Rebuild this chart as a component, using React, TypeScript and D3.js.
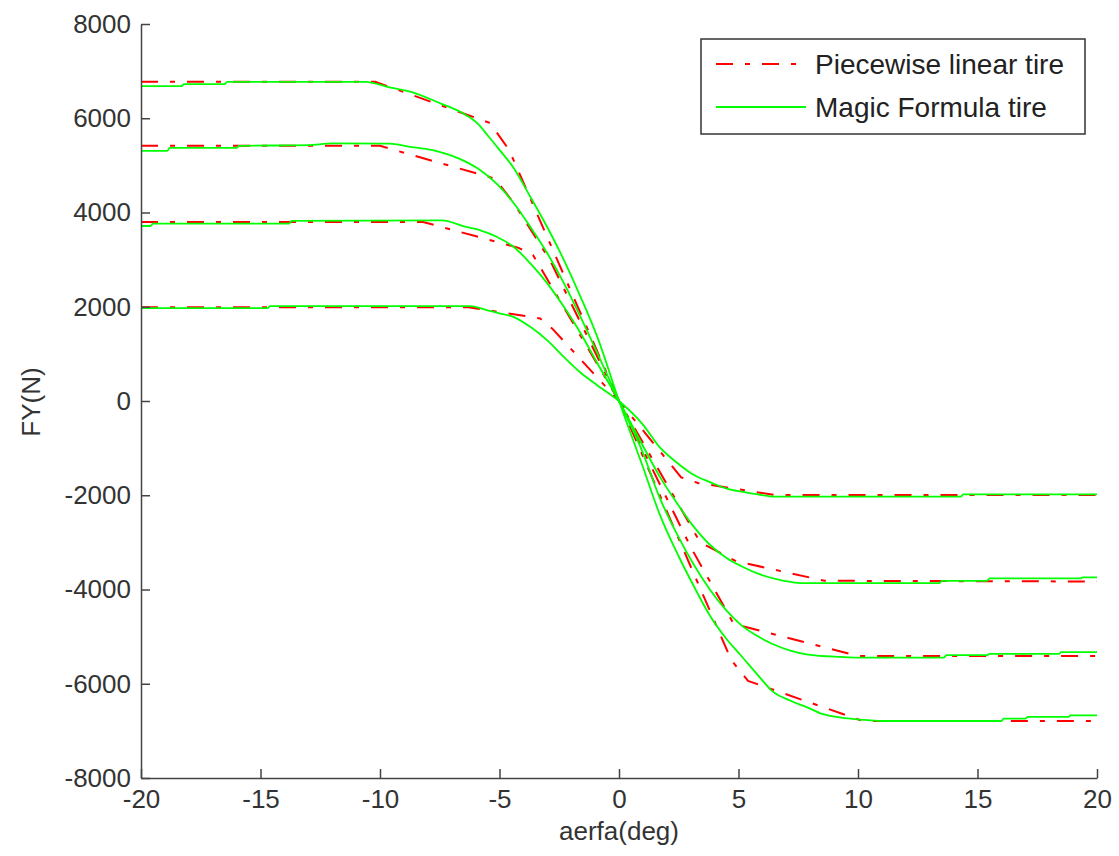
import React, { useEffect, useRef } from "react";
import * as d3 from "d3";

type Pt = [number, number];

const xTicks = [-20, -15, -10, -5, 0, 5, 10, 15, 20];
const yTicks = [-8000, -6000, -4000, -2000, 0, 2000, 4000, 6000, 8000];

const xLabel = "aerfa(deg)";
const yLabel = "FY(N)";
const legendLabels = ["Piecewise linear tire", "Magic Formula tire"];

// Magic Formula tire (green)
const mf2000: Pt[] = [
  [-20, 1972], [-14.7, 1972], [-14.6, 2014], [-6.2, 2014], [-5.5, 1923], [-5.0, 1860],
  [-4.4, 1781], [-3.7, 1568], [-3.0, 1286], [-2.3, 931], [-1.6, 600], [-0.9, 330], [0, 0],
  [1, -500], [1.7, -980], [2.4, -1300], [3.1, -1560], [3.8, -1720], [4.5, -1860],
  [5.2, -1930], [5.9, -1990], [6.5, -2029], [14.3, -2029], [14.4, -1980], [20, -1980],
];
const mf3800: Pt[] = [
  [-20, 3714], [-19.6, 3714], [-19.5, 3765], [-13.8, 3765], [-13.7, 3821], [-7.4, 3835],
  [-6.4, 3693], [-5.8, 3623], [-5.1, 3481], [-4.4, 3268], [-3.7, 2915], [-3.0, 2497],
  [-2.3, 1993], [-1.6, 1434], [-0.9, 797], [0, 0], [1, -950], [1.7, -1600], [2.4, -2150],
  [3.1, -2650], [3.8, -3050], [4.5, -3330], [5.1, -3500], [5.9, -3680], [6.9, -3815],
  [7.6, -3864], [13.4, -3864], [13.5, -3815], [15.4, -3815], [15.5, -3765], [19.3, -3765],
  [19.4, -3744], [20, -3744],
];
const mf5400: Pt[] = [
  [-20, 5308], [-18.9, 5308], [-18.8, 5372], [-16, 5372], [-15.9, 5414], [-13, 5430],
  [-12, 5465], [-9.6, 5460], [-8.8, 5400], [-7.8, 5322], [-6.4, 5074], [-5.8, 4898],
  [-5.1, 4600], [-4.4, 4197], [-3.7, 3687], [-3.0, 3134], [-2.3, 2497], [-1.6, 1774],
  [-0.9, 1009], [0, 0], [1, -1100], [1.7, -2050], [2.4, -2800], [3.1, -3450], [3.8, -4000],
  [4.5, -4450], [5.1, -4750], [5.9, -5020], [6.4, -5150], [7.2, -5300], [7.9, -5380],
  [9.3, -5430], [10, -5444], [13.6, -5444], [13.7, -5394], [15.4, -5394], [15.5, -5366],
  [18.4, -5366], [18.5, -5331], [20, -5331],
];
const mf6750: Pt[] = [
  [-20, 6683], [-18.3, 6683], [-18.2, 6725], [-16.5, 6725], [-16.4, 6774], [-10.6, 6774],
  [-9.7, 6668], [-8.7, 6562], [-7.5, 6322], [-6.4, 6066], [-5.9, 5880], [-5.5, 5640],
  [-5.0, 5330], [-4.4, 4940], [-3.7, 4324], [-3.0, 3687], [-2.3, 2986], [-1.6, 2200],
  [-0.9, 1350], [0, 0], [1, -1400], [1.7, -2400], [2.5, -3300], [3.1, -3900], [3.8, -4550],
  [4.5, -5050], [5.1, -5400], [5.9, -5870], [6.4, -6152], [7.2, -6365], [7.9, -6507],
  [8.5, -6641], [9.3, -6719], [10.1, -6760], [11, -6790], [16, -6790], [16.1, -6740],
  [17, -6740], [17.1, -6705], [18.8, -6705], [18.9, -6670], [20, -6670],
];

// Piecewise linear tire (red dash-dot)
const pl2000: Pt[] = [
  [-20, 1990], [-6.3, 1990], [-3.3, 1753], [-2.8, 1540], [0, 0], [2.6, -1620],
  [3.3, -1740], [6.5, -1993], [20, -1993],
];
const pl3800: Pt[] = [
  [-20, 3800], [-8.2, 3800], [-4.2, 3250], [-3.6, 3100], [0, 0], [3.4, -3000],
  [4.9, -3400], [8.6, -3815], [20, -3830],
];
const pl5400: Pt[] = [
  [-20, 5414], [-10, 5414], [-5.2, 4720], [-4.4, 4200], [-2.9, 3000], [0, 0],
  [3, -3100], [4.8, -4730], [10, -5410], [20, -5410],
];
const pl6750: Pt[] = [
  [-20, 6774], [-10.2, 6774], [-5.4, 5900], [-4.6, 5330], [0, 0], [4.7, -5500],
  [5.4, -5940], [10.2, -6790], [20, -6790],
];

const mfSeries = [mf2000, mf3800, mf5400, mf6750];
const plSeries = [pl2000, pl3800, pl5400, pl6750];

const W = 1119;
const H = 856;
const FONT = "'Liberation Sans', Arial, Helvetica, sans-serif";
const GREEN = "#00ff00";
const RED = "#ff0000";
const DASH = "17,12,5,12";

export default function App() {
  const ref = useRef<SVGSVGElement | null>(null);

  useEffect(() => {
    const svg = d3.select(ref.current);
    svg.selectAll("*").remove();

    const x = d3.scaleLinear().domain([-20, 20]).range([141, 1097]);
    const y = d3.scaleLinear().domain([-8000, 8000]).range([778, 24]);

    svg.append("rect").attr("width", W).attr("height", H).attr("fill", "#fff");

    const lineMF = d3
      .line<Pt>()
      .x((d) => x(d[0]))
      .y((d) => y(d[1]))
      .curve(d3.curveMonotoneX);
    const linePL = d3
      .line<Pt>()
      .x((d) => x(d[0]))
      .y((d) => y(d[1]))
      .curve(d3.curveLinear);

    const g = svg.append("g");
    plSeries.forEach((s) => {
      g.append("path")
        .attr("d", linePL(s) as string)
        .attr("fill", "none")
        .attr("stroke", RED)
        .attr("stroke-width", 2)
        .attr("stroke-dasharray", DASH);
    });
    mfSeries.forEach((s) => {
      g.append("path")
        .attr("d", lineMF(s) as string)
        .attr("fill", "none")
        .attr("stroke", GREEN)
        .attr("stroke-width", 1.8);
    });

    const fmt = (d: d3.NumberValue) => String(d);

    const ax = svg
      .append("g")
      .attr("transform", `translate(141,0)`)
      .call(
        d3.axisLeft(y).tickValues(yTicks).tickFormat(fmt).tickSizeInner(-9).tickSizeOuter(0).tickPadding(10)
      );
    const bx = svg
      .append("g")
      .attr("transform", `translate(0,778)`)
      .call(
        d3.axisBottom(x).tickValues(xTicks).tickFormat(fmt).tickSizeInner(-9).tickSizeOuter(0).tickPadding(12)
      );
    [ax, bx].forEach((a) => {
      a.selectAll("path").attr("stroke", "#444").attr("stroke-width", 1.5);
      a.selectAll("line").attr("stroke", "#444").attr("stroke-width", 1.5);
      a.selectAll("text")
        .attr("fill", "#333")
        .style("font-family", FONT)
        .style("font-size", "26px");
    });

    svg
      .append("text")
      .attr("x", 619)
      .attr("y", 840)
      .attr("text-anchor", "middle")
      .attr("fill", "#333")
      .style("font-family", FONT)
      .style("font-size", "26px")
      .text(xLabel);

    svg
      .append("text")
      .attr("transform", "translate(40,402) rotate(-90)")
      .attr("text-anchor", "middle")
      .attr("fill", "#333")
      .style("font-family", FONT)
      .style("font-size", "26px")
      .text(yLabel);

    // legend
    const lg = svg.append("g");
    lg.append("rect")
      .attr("x", 701)
      .attr("y", 39)
      .attr("width", 384)
      .attr("height", 95)
      .attr("fill", "#fff")
      .attr("stroke", "#333")
      .attr("stroke-width", 1.5);
    const items = [
      { label: legendLabels[0], color: RED, dash: DASH, yy: 64 },
      { label: legendLabels[1], color: GREEN, dash: null as string | null, yy: 107 },
    ];
    items.forEach((it) => {
      lg.append("line")
        .attr("x1", 716)
        .attr("x2", 806)
        .attr("y1", it.yy)
        .attr("y2", it.yy)
        .attr("stroke", it.color)
        .attr("stroke-width", 2)
        .attr("stroke-dasharray", it.dash);
      lg.append("text")
        .attr("x", 815)
        .attr("y", it.yy + 10)
        .attr("fill", "#222")
        .style("font-family", FONT)
        .style("font-size", "28px")
        .text(it.label);
    });
  }, []);

  return (
    <svg
      ref={ref}
      width={W}
      height={H}
      style={{ position: "absolute", left: 0, top: 0, display: "block" }}
    />
  );
}
